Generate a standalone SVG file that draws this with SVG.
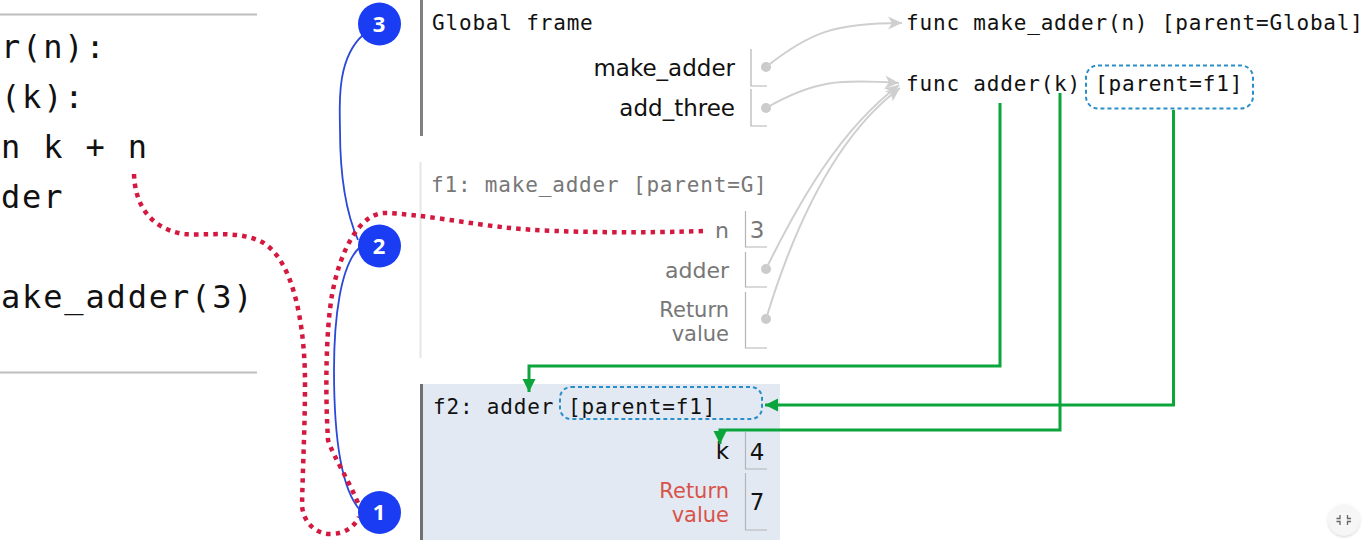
<svg xmlns="http://www.w3.org/2000/svg" width="1366" height="546" viewBox="0 0 1366 546">
<style>
text{font-family:"DejaVu Sans","Liberation Sans",sans-serif}
.code{font-family:"DejaVu Sans Mono","Liberation Mono",monospace;font-size:32px;letter-spacing:1.85px;fill:#111}
.m{font-family:"DejaVu Sans Mono","Liberation Mono",monospace;font-size:21px;letter-spacing:.82px;fill:#111}
.lb{font-size:23px;text-anchor:end;fill:#111}
.s{font-size:22px}
.r{font-size:21px}
.v{font-size:23px;text-anchor:middle;fill:#111}
.rule{stroke:#bdbdbd;stroke-width:2;fill:none}
.cell{stroke:#b4b4b4;stroke-width:1.2;fill:none}
.dot{fill:#cbcbcb}
.g{stroke:#cfcfcf;stroke-width:2;fill:none;marker-end:url(#ga)}
.gr{stroke:#0ba53c;stroke-width:3;fill:none;marker-end:url(#gra)}
.blue{stroke:#2a49d8;stroke-width:1.8;fill:none}
.red{stroke:#d3193f;stroke-width:4.5;fill:none;stroke-dasharray:4.5 5.1}
.box{fill:none;stroke:#2a8fc9;stroke-width:2;stroke-dasharray:4 3}
.badge{fill:#1a3cf2}
.bt{font-family:"Open Sans","DejaVu Sans",sans-serif;font-size:22px;font-weight:700;fill:#fff;text-anchor:middle}
</style>
<defs>
<marker id="ga" markerUnits="userSpaceOnUse" markerWidth="18" markerHeight="16" refX="15" refY="8" orient="auto"><path d="M1 1.500L15 8L1 14.500L5 8Z" fill="#cfcfcf"/></marker>
<marker id="gra" markerUnits="userSpaceOnUse" markerWidth="15" markerHeight="16" refX="13" refY="8" orient="auto"><path d="M0 1.500L13 8L0 14.500Z" fill="#0ba53c"/></marker>
<filter id="sh" x="-40%" y="-40%" width="180%" height="180%"><feDropShadow dx="0" dy="1" stdDeviation="1.500" flood-color="#000" flood-opacity=".2"/></filter>
</defs>

<g id="code">
<line class="rule" x1="0" y1="14.500" x2="257" y2="14.500"/>
<line class="rule" x1="0" y1="372.500" x2="257" y2="372.500"/>
<text class="code" x="1" y="58">r(n):</text>
<text class="code" x="1" y="108">(k):</text>
<text class="code" x="1" y="158">n k + n</text>
<text class="code" x="1" y="208">der</text>
<text class="code" x="1" y="308">ake_adder(3)</text>
</g>

<g id="global-frame">
<rect x="420" y="0" width="3" height="136" fill="#808080"/>
<text class="m" x="432" y="30">Global frame</text>
<text class="lb" x="735" y="76">make_adder</text>
<text class="lb" x="735" y="116">add_three</text>
<path class="cell" d="M751 49V86H767M751 89V126H767"/>
<circle class="dot" cx="766" cy="67" r="5"/>
<circle class="dot" cx="766" cy="108" r="5"/>
</g>

<g id="f1-frame">
<rect x="419.500" y="162" width="2" height="196" fill="#e6e6e6"/>
<text class="m" x="431" y="192" style="fill:#777">f1: make_adder [parent=G]</text>
<text class="lb s" x="729" y="238" style="fill:#777">n</text>
<text class="lb s" x="729" y="278" style="fill:#777">adder</text>
<text class="lb r" x="729" y="317" style="fill:#777">Return</text>
<text class="lb r" x="729" y="341" style="fill:#777">value</text>
<path class="cell" d="M745.500 211V247H767M745.500 252V287H767M745.500 292V348H767"/>
<text class="v" x="757" y="238" style="fill:#777">3</text>
<circle class="dot" cx="766" cy="269" r="5"/>
<circle class="dot" cx="766" cy="319" r="5"/>
</g>

<g id="f2-frame">
<rect x="420" y="384" width="360" height="156" fill="#e2e9f3"/>
<rect x="420" y="384" width="3" height="156" fill="#707070"/>
<text class="m" x="433" y="414">f2: adder</text>
<text class="m" x="568" y="414">[parent=f1]</text>
<rect class="box" x="560" y="387" width="202" height="32" rx="11"/>
<text class="lb" x="729" y="459">k</text>
<text class="lb r" x="729" y="498" style="fill:#d9534a">Return</text>
<text class="lb r" x="729" y="522" style="fill:#d9534a">value</text>
<path class="cell" d="M745.500 432V469H767M745.500 473V530H767"/>
<text class="v" x="757" y="460">4</text>
<text class="v" x="757" y="510">7</text>
</g>

<g id="func-make-adder">
<text class="m" x="906" y="30">func make_adder(n) [parent=Global]</text>
</g>
<g id="func-adder">
<text class="m" x="906" y="91">func adder(k)</text>
<text class="m" x="1095" y="91">[parent=f1]</text>
<rect class="box" x="1086" y="65.500" width="167" height="43" rx="12"/>
</g>

<g id="connectors">
<path class="g" d="M766 67C810 32 835 23 902 23"/>
<path class="g" d="M766 108C815 80 840 79 899 83"/>
<path class="g" d="M766 269C800 200 840 130 899 85"/>
<path class="g" d="M766 319C790 240 830 140 900 88"/>
<path class="gr" d="M1000 103V366H529V392"/>
<path class="gr" d="M1173.500 110V405H765"/>
<path class="gr" d="M1060 93V430H720V444"/>
<path class="blue" d="M363 35C335 60 340 110 340 130C340 180 347 215 358 240"/>
<path class="blue" d="M360 247C340 265 334 320 334 370C334 440 342 490 360 510"/>
<path class="red" d="M134 174C135 205 150 228 183 234C205 236 235 230 260 241C295 258 305 330 305 383C305 425 303 460 302 506C304 525 318 534 330 534C345 534 354 527 359 517"/>
<path class="red" d="M703 231C650 233 560 233 510 228C470 224 420 214 385 213C360 213 340 250 332 295C326 330 325 390 328 440C334 458 350 482 360 508"/>
</g>

<g id="badge-3"><circle class="badge" cx="379.500" cy="24" r="21.500"/><text class="bt" x="379" y="31.500">3</text></g>
<g id="badge-2"><circle class="badge" cx="379.500" cy="246" r="21.500"/><text class="bt" x="379" y="253.500">2</text></g>
<g id="badge-1"><circle class="badge" cx="379.500" cy="512.500" r="21.500"/><text class="bt" x="379" y="520">1</text></g>

<g id="collapse-button">
<circle cx="1344" cy="520" r="15.500" fill="#f6f6f6" filter="url(#sh)"/>
<path d="M1340 515V518.500H1336.500M1347.500 515V518.500H1351M1340 525V521.500H1336.500M1347.500 525V521.500H1351" fill="none" stroke="#666" stroke-width="1.300"/>
</g>
</svg>
